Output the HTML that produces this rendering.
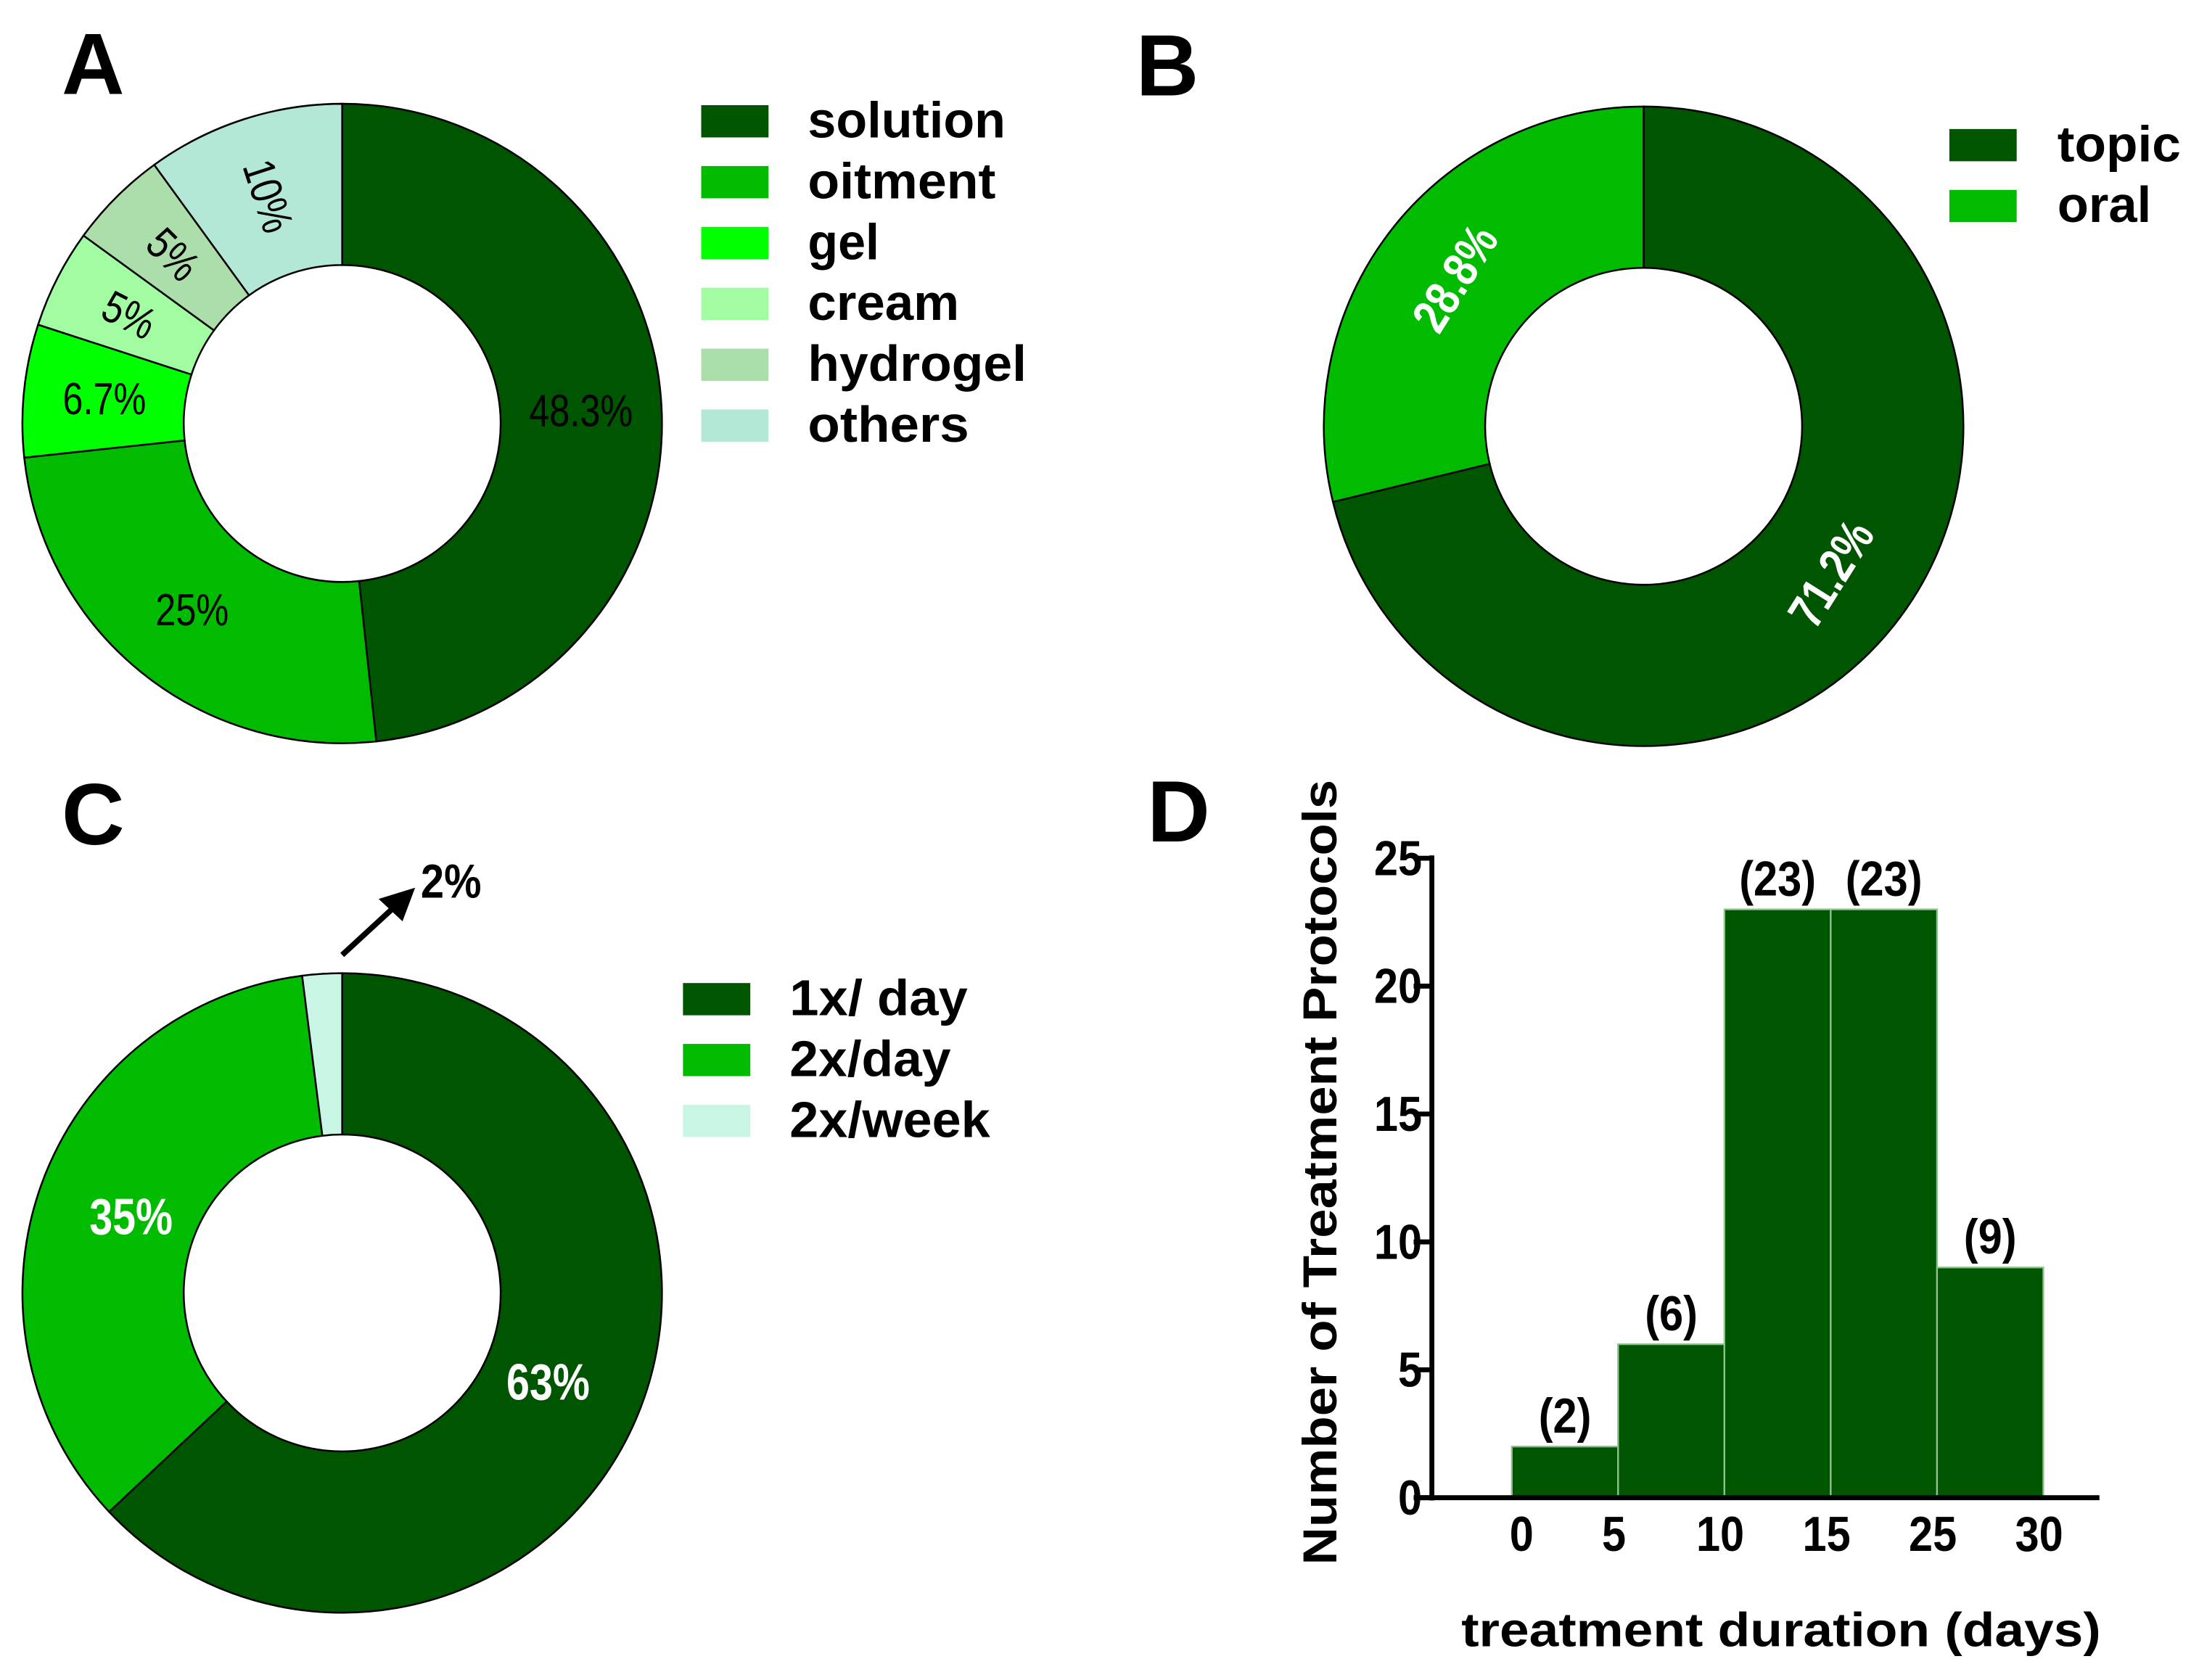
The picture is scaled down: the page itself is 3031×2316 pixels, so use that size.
<!DOCTYPE html>
<html><head><meta charset="utf-8"><style>
html,body{margin:0;padding:0;background:#fff}
svg{display:block}
text{font-family:"Liberation Sans",Arial,sans-serif}
</style></head><body>
<svg id="fig" width="3031" height="2316" viewBox="0 0 1568 1198" preserveAspectRatio="none" xmlns="http://www.w3.org/2000/svg">
<text x="44" y="67" font-size="62" font-weight="bold">A</text>
<text x="810" y="68" font-size="62" font-weight="bold">B</text>
<text x="44" y="602" font-size="62" font-weight="bold">C</text>
<text x="818" y="600" font-size="62" font-weight="bold">D</text>
<g id="gA"></g>
<g id="gB"></g>
<g id="gC"></g>
<g id="gD"></g>
</svg>
<script>
// Panel A data
const aCats = ["solution","oitment","gel","cream","hydrogel","others"];
const aVals = [48.3,25,6.7,5,5,10];
const aLabels = ["48.3%","25%","6.7%","5%","5%","10%"];
// Panel B data
const bCats = ["topic","oral"];
const bVals = [71.2,28.8];
const bLabels = ["71.2%","28.8%"];
// Panel C data
const cCats = ["1x/ day","2x/day","2x/week"];
const cVals = [63,35,2];
const cLabels = ["63%","35%","2%"];
// Panel D data
const dCounts = [2,6,23,23,9];
const dValueLabels = ["(2)","(6)","(23)","(23)","(9)"];
const dXTicks = ["0","5","10","15","25","30"];
const dYTicks = [0,5,10,15,20,25];

const NS="http://www.w3.org/2000/svg";
function mk(tag,attrs,parent){const e=document.createElementNS(NS,tag);for(const k in attrs)e.setAttribute(k,attrs[k]);parent.appendChild(e);return e;}
function pt(cx,cy,r,deg){const a=deg*Math.PI/180;return [cx+r*Math.sin(a),cy-r*Math.cos(a)];}
function arcPath(cx,cy,R,r,a0,a1){
  const p0=pt(cx,cy,R,a0),p1=pt(cx,cy,R,a1),q1=pt(cx,cy,r,a1),q0=pt(cx,cy,r,a0);
  const lg=(a1-a0)>180?1:0;
  return `M${p0[0]},${p0[1]} A${R},${R} 0 ${lg} 1 ${p1[0]},${p1[1]} L${q1[0]},${q1[1]} A${r},${r} 0 ${lg} 0 ${q0[0]},${q0[1]} Z`;
}
function donut(g,cx,cy,R,r,vals,labels,colors,opt){
  const total=vals.reduce((s,v)=>s+v,0);
  let a=0;
  vals.forEach((v,i)=>{
    const a1=a+v/total*360;
    const p=mk('path',{d:arcPath(cx,cy,R,r,a,a1),fill:colors[i],stroke:'#000','stroke-width':1.3},g);
    
    
    const mid=(a+a1)/2;
    if(opt.skip&&opt.skip(i)){a=a1;return;}
    const lp=pt(cx,cy,(opt.lr||(R+r)/2),mid);
    let rot=0;
    if(opt.rot==='tangent'){rot=((mid+90)%180)-90-6;}
    else if(opt.rot==='inward'&&opt.inward(i)){rot=mid-270;}
    const t=mk('text',{x:lp[0],y:lp[1],'text-anchor':'middle','dominant-baseline':'central','font-size':opt.fs,'font-weight':opt.fw,fill:opt.fill,transform:`rotate(${rot} ${lp[0]} ${lp[1]}) scale(0.9 1.1) translate(${lp[0]/0.9-lp[0]} ${lp[1]/1.1-lp[1]})`},g);
    t.textContent=labels[i];
    
    
    a=a1;
  });
}
function legend(g,x,tx,y0,dy,cats,colors,widths){
  cats.forEach((c,i)=>{
    const y=y0+i*dy;
    const r=mk('rect',{x:x,y:y-11,width:48,height:23,fill:colors[i]},g);
    
    
    const t=mk('text',{x:tx,y:y+12,'font-size':36,'font-weight':'bold',textLength:widths[i],lengthAdjust:'spacingAndGlyphs'},g);
    t.textContent=c;
    
    
  });
}
function condText(g,x,y,str,fs,anchor,name){
  const t=mk('text',{x:0,y:0,'text-anchor':anchor,'font-size':fs,'font-weight':'bold',transform:`translate(${x} ${y}) scale(0.88 1)`},g);
  t.textContent=str;
  
  
  return t;
}
const dark='#005500',mid='#00bb00';
// A
const gA=document.getElementById('gA');
const aCols=[dark,mid,'#00ff00','#a2fda2','#acdeac','#b4e8d6'];
donut(gA,244,302,228,113,aVals,aLabels,aCols,{fs:29,fw:'normal',fill:'#000',rot:'inward',inward:i=>i>=3});
legend(gA,500,576,86,43.4,aCats,aCols,[141,134,51,108,156,115]);
// B
const gB=document.getElementById('gB');
donut(gB,1172,304,228,113,bVals,bLabels,[dark,mid],{fs:32,fw:'bold',fill:'#fff',rot:'tangent'});
legend(gB,1390,1467,103,43.4,bCats,[dark,mid],[88,67]);
// C
const gC=document.getElementById('gC');
const cCols=[dark,mid,'#c8f5e4'];
donut(gC,244,922,228,113,cVals,cLabels,cCols,{fs:33,fw:'bold',fill:'#fff',rot:'none',lr:160,skip:i=>i===2});
legend(gC,487,563,712,43.4,cCats,cCols,[127,115,143]);
mk('line',{x1:244,y1:681,x2:282,y2:646,stroke:'#000','stroke-width':4},gC);
const ah=mk('polygon',{points:'296,633 270,641 287,657',fill:'#000'},gC);


condText(gC,300,640,cLabels[2],34,'start','label-2pct');
// D
const gD=document.getElementById('gD');
const y0=1068,yTop=612,x0=1078,bw=75.8;
const ys=v=>y0-(v/25)*(y0-yTop);
const xs=i=>x0+i*bw;
dCounts.forEach((v,i)=>{
  const r=mk('rect',{x:xs(i),y:ys(v),width:bw,height:y0-ys(v),fill:dark,stroke:'#8fc08f','stroke-width':1.2},gD);
  
  
  condText(gD,xs(i)+bw/2,ys(v)-10,dValueLabels[i],35,'middle','bar-value-'+i);
});
mk('line',{x1:1021,y1:yTop-2,x2:1021,y2:y0+2,stroke:'#000','stroke-width':3.5},gD);
mk('line',{x1:1008,y1:y0,x2:1497,y2:y0,stroke:'#000','stroke-width':3.5},gD);
dYTicks.forEach(v=>{
  mk('line',{x1:1008,y1:ys(v),x2:1021,y2:ys(v),stroke:'#000','stroke-width':3.5},gD);
  condText(gD,1014,ys(v)+12,String(v),35,'end','y-tick-'+v);
});
dXTicks.forEach((l,i)=>{
  const x=i===0?xs(0)+7:xs(i)-3;
  condText(gD,x,1106,l,35,'middle','x-tick-'+i);
});
const yt=mk('text',{x:0,y:0,'text-anchor':'middle','font-size':34,'font-weight':'bold',transform:'translate(953 836) rotate(-90)',textLength:560,lengthAdjust:'spacingAndGlyphs'},gD);
yt.textContent='Number of Treatment Protocols';


const xt=mk('text',{x:1270,y:1174,'text-anchor':'middle','font-size':34,'font-weight':'bold',textLength:456,lengthAdjust:'spacingAndGlyphs'},gD);
xt.textContent='treatment duration (days)';


</script>
</body></html>
